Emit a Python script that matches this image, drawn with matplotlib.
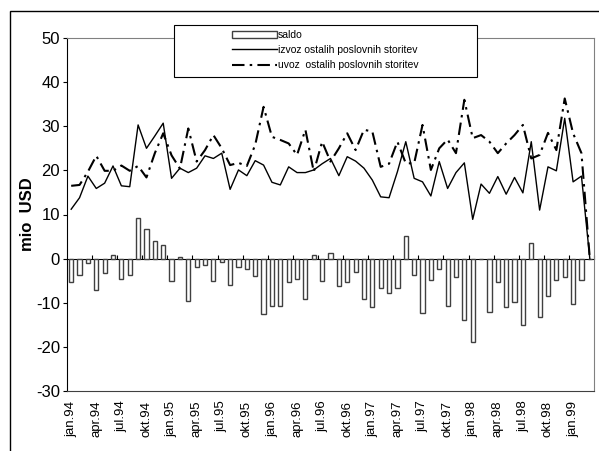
import matplotlib
matplotlib.use("Agg")
import matplotlib.pyplot as plt
import matplotlib.patches as mpatches
import numpy as np

plt.rcParams['font.family'] = ['Liberation Sans', 'DejaVu Sans']
plt.rcParams['axes.unicode_minus'] = False

# monthly data jan.94 - mar.99, mio USD
saldo = [-5.4, -3.6, -1.1, -7.1, -3.2, 0.8, -4.6, -3.6, 9.2, 6.7, 4.1, 3.0,
         -5.0, 0.4, -9.6, -1.8, -1.4, -5.0, -0.7, -6.0, -1.8, -2.4, -3.9, -12.6,
         -10.7, -10.7, -5.4, -4.6, -9.2, 0.8, -5.0, 1.2, -6.1, -5.4, -3.0, -9.2,
         -11.0, -6.7, -7.9, -6.7, 5.1, -3.8, -12.4, -4.9, -2.4, -10.7, -4.1, -13.9,
         -18.8, 0.0, -12.0, -5.2, -10.9, -9.8, -15.1, 3.6, -13.2, -8.5, -4.9, -4.1,
         -10.3, -4.9, 0.0]
izvoz = [11.2, 13.8, 18.7, 15.9, 17.1, 21.0, 16.5, 16.3, 30.3, 25.0, 27.8, 30.7,
         18.2, 20.5, 19.5, 20.5, 23.3, 22.7, 23.9, 15.7, 20.1, 18.8, 22.2, 21.2,
         17.3, 16.7, 20.8, 19.5, 19.5, 20.1, 21.5, 22.7, 18.8, 23.1, 22.1, 20.5,
         17.8, 14.0, 13.8, 19.7, 26.5, 18.2, 17.4, 14.2, 22.0, 15.9, 19.5, 21.7,
         8.9, 16.9, 14.8, 18.6, 14.6, 18.4, 14.9, 26.5, 11.0, 20.8, 19.9, 31.8,
         17.4, 18.7, 0.0]
uvoz = [16.5, 16.7, 19.7, 23.3, 19.9, 19.9, 21.1, 19.9, 21.0, 18.4, 23.9, 28.4,
        23.4, 20.4, 29.5, 22.0, 24.6, 28.0, 25.0, 21.2, 21.7, 21.0, 25.8, 34.4,
        27.6, 26.9, 26.1, 23.5, 29.2, 19.7, 26.5, 22.0, 25.0, 28.4, 24.6, 29.2,
        28.8, 20.8, 21.5, 26.5, 21.6, 21.6, 30.3, 20.1, 25.0, 27.0, 23.9, 36.0,
        27.3, 28.0, 26.5, 23.9, 26.1, 28.0, 30.3, 22.7, 23.5, 28.5, 24.6, 36.3,
        28.4, 23.9, 0.0]
tick_labels = ['jan.94', 'apr.94', 'jul.94', 'okt.94', 'jan.95', 'apr.95', 'jul.95',
               'okt.95', 'jan.96', 'apr.96', 'jul.96', 'okt.96', 'jan.97', 'apr.97',
               'jul.97', 'okt.97', 'jan.98', 'apr.98', 'jul.98', 'okt.98', 'jan.99']

x = np.arange(len(saldo))

fig = plt.figure(figsize=(5.99, 4.51), dpi=100)
ax = fig.add_axes([67 / 599, 60 / 451, 527 / 599, 353 / 451])

ax.bar(x, saldo, width=0.5, facecolor='white', edgecolor='#404040',
       linewidth=1.0, label='saldo', zorder=2)
ax.plot(x, izvoz, color='black', linewidth=1.0,
        label='izvoz ostalih poslovnih storitev', zorder=3)
ax.plot(x, uvoz, color='black', linewidth=1.5, dashes=(6, 2.5, 1.2, 2.5),
        label='uvoz  ostalih poslovnih storitev', zorder=3)

ax.set_xlim(-0.5, len(saldo) - 0.5)
ax.set_ylim(-30, 50)
ax.set_yticks(range(-30, 51, 10))
ax.set_yticklabels([str(v) for v in range(-30, 51, 10)], fontsize=12)
ax.tick_params(axis='y', direction='out', length=3, width=0.8, pad=2)

ax.set_xticks(x[::3])
ax.set_xticklabels(tick_labels, rotation=90, fontsize=9.5)
ax.tick_params(axis='x', length=0, pad=7)

for s in ['top', 'right']:
    ax.spines[s].set_color('#808080')
ax.spines['left'].set_color('black')
ax.spines['bottom'].set_color('#404040')

ax.set_ylabel('mio  USD', fontsize=12, fontweight='bold')
ax.yaxis.set_label_coords(-0.06, 0.5)

# category axis crossing at zero
sec = ax.secondary_xaxis(30 / 80)
sec.set_xticks(np.arange(2.5, len(saldo), 3))
sec.tick_params(direction='in', length=3, width=0.8, labelbottom=False, labeltop=False)
sec.spines['bottom'].set_color('black')
sec.spines['top'].set_color('black')

# legend box
box = mpatches.Rectangle((174 / 599, 1 - 77 / 451), 303 / 599, 52 / 451,
                         transform=fig.transFigure, facecolor='white',
                         edgecolor='black', linewidth=0.8, zorder=5)
fig.patches.append(box)
handles, labels = ax.get_legend_handles_labels()
order = [2, 0, 1]
leg = fig.legend([handles[i] for i in order], [labels[i] for i in order],
                 loc='center', bbox_to_anchor=(325.5 / 599, 1 - 50 / 451),
                 frameon=False, fontsize=7.5, handlelength=4.3,
                 handletextpad=0.1, labelspacing=0.5, borderpad=0.2)
leg.set_zorder(6)

# outer frame
frame = mpatches.Rectangle((10 / 599, -0.05), 1.2, 1 - 11 / 451 + 0.05,
                           transform=fig.transFigure, fill=False,
                           edgecolor='black', linewidth=1.0, zorder=0)
fig.patches.append(frame)

fig.savefig('out.png', dpi=100)
